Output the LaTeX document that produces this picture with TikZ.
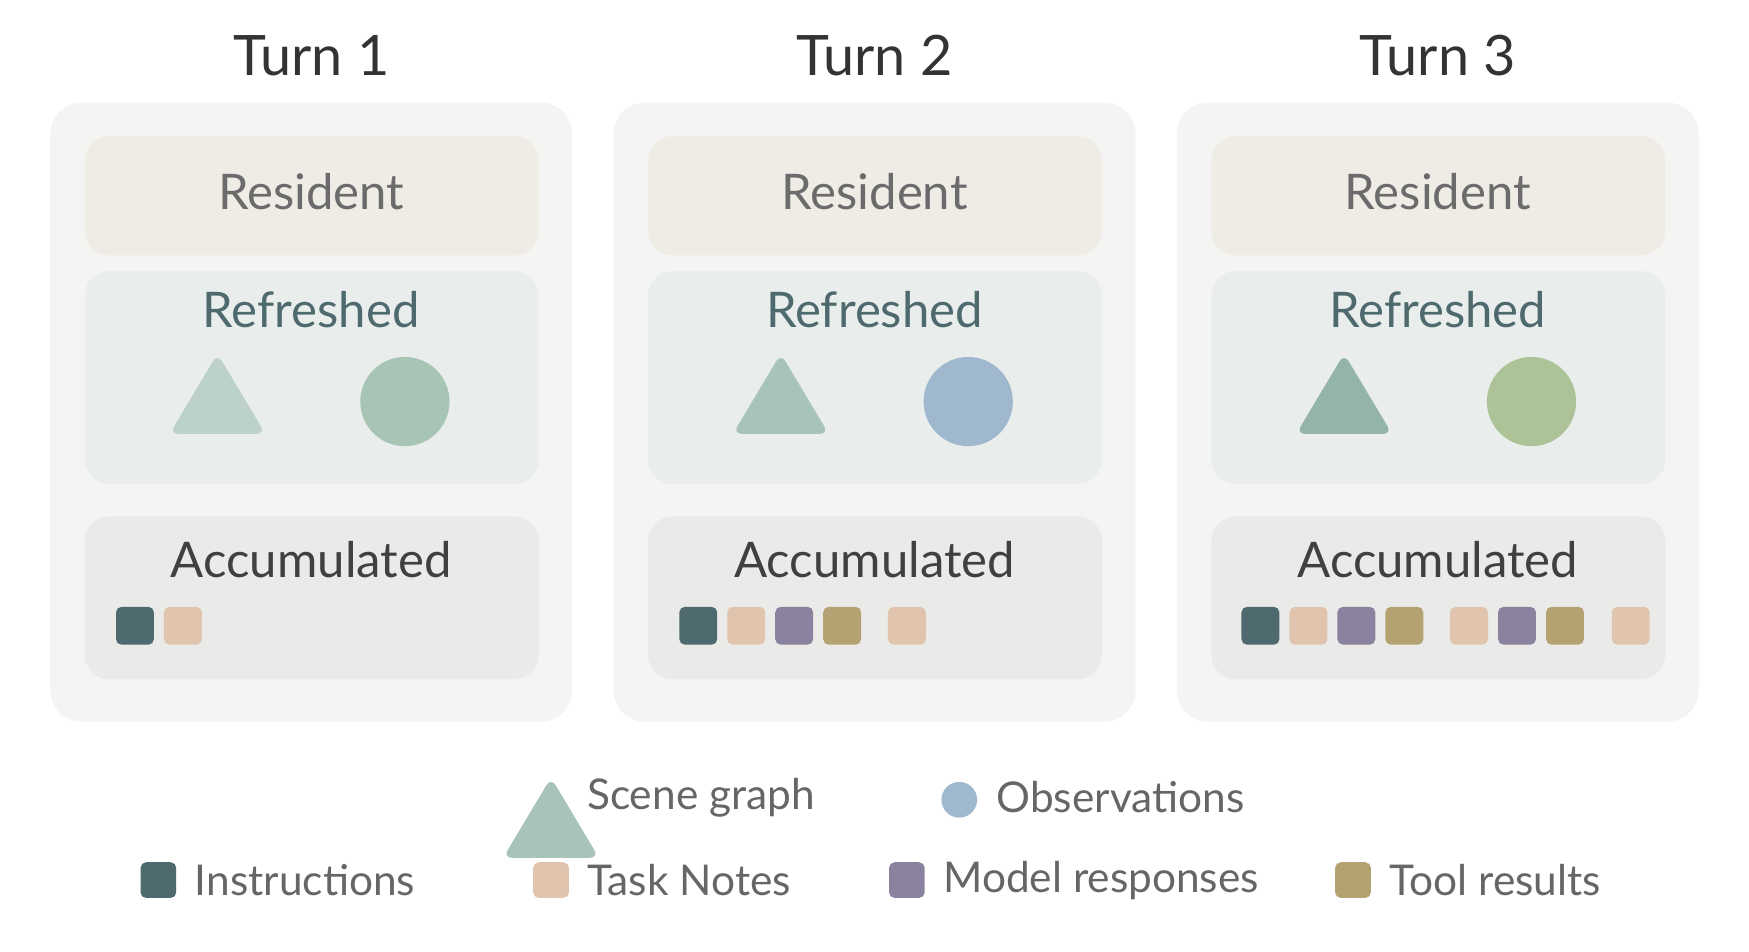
\documentclass[tikz,border=0pt]{standalone}
\usepackage{fontspec}
\setmainfont{Lato}
\usetikzlibrary{positioning}
\definecolor{panelbg}{HTML}{F4F4F2}
\definecolor{residentbg}{HTML}{EFECE6}
\definecolor{refreshbg}{HTML}{E9EEEC}
\definecolor{accumbg}{HTML}{EAEAE8}
\definecolor{instr}{HTML}{4E6A6E}
\definecolor{notes}{HTML}{E0C4AE}
\definecolor{model}{HTML}{8A829E}
\definecolor{tool}{HTML}{B4A272}
\definecolor{triA}{HTML}{BCD1C8}
\definecolor{triB}{HTML}{A8C4B8}
\definecolor{triC}{HTML}{94B4AA}
\definecolor{circA}{HTML}{A8C4B5}
\definecolor{circB}{HTML}{A0B8CE}
\definecolor{circC}{HTML}{ABC397}
\tikzset{
  panel/.style={fill=panelbg, rounded corners=14pt},
  band/.style={rounded corners=11pt},
  title/.style={font=\fontsize{25}{30}\selectfont, text=black!80},
  bandtext/.style={font=\fontsize{22}{26}\selectfont},
  legtext/.style={font=\fontsize{19}{23}\selectfont, text=black!60, anchor=west, inner sep=0pt},
  chip/.style={minimum size=17pt, inner sep=0pt, rounded corners=2.5pt},
}
\newcommand{\tri}[3]{% x, y(top), colour
  \fill[#3, rounded corners=4pt] (#1-43,#2+72) -- (#1,#2) -- (#1+43,#2+72) -- cycle;}
\begin{document}
\begin{tikzpicture}[x=0.5pt, y=-0.5pt]
\useasboundingbox (0,0) rectangle (1568,853);
% panels
\foreach \n/\ox/\tc/\cc in {1/0/triA/circA, 2/505/triB/circB, 3/1010/triC/circC} {
  \fill[panel] (45+\ox,92) rectangle (513+\ox,647);
  \node[title] (turn\n) at (279+\ox,50) {Turn \n};
  \fill[band, residentbg] (76+\ox,122) rectangle (483+\ox,229);
  \node[bandtext, text=black!58] (res\n) at (279+\ox,172) {Resident};
  \fill[band, refreshbg] (76+\ox,243) rectangle (483+\ox,434);
  \node[bandtext, text=instr] (ref\n) at (279+\ox,278) {Refreshed};
  \tri{195+\ox}{317}{\tc}
  \fill[\cc] (363+\ox,360) circle (20pt);
  \fill[band, accumbg] (76+\ox,463) rectangle (483+\ox,609);
  \node[bandtext, text=black!75] (acc\n) at (279+\ox,502) {Accumulated};
}
% accumulated chips
\foreach \x/\c [count=\i] in {121/instr, 164/notes} \node[chip, fill=\c] (a1c\i) at (\x,561) {};
\foreach \x/\c [count=\i] in {626/instr, 669/notes, 712/model, 755/tool, 813/notes}
  \node[chip, fill=\c] (a2c\i) at (\x,561) {};
\foreach \x/\c [count=\i] in {1130/instr, 1173/notes, 1216/model, 1259/tool, 1317/notes, 1360/model, 1403/tool, 1462/notes}
  \node[chip, fill=\c] (a3c\i) at (\x,561) {};
% legend
\tri{494}{697}{triB}
\node[legtext] (lscene) at (526,715) {Scene graph};
\fill[circB] (860,717) circle (8pt);
\node[legtext] (lobs) at (893,715) {Observations};
\foreach \x/\c/\t [count=\i] in {142/instr/Instructions, 494/notes/Task Notes, 813/model/Model responses, 1213/tool/Tool results} {
  \node[chip, minimum size=16pt, fill=\c] (lk\i) at (\x,789) {};
  \node[legtext, right=8pt of lk\i] (lt\i) {\t};
}
\end{tikzpicture}
\end{document}
